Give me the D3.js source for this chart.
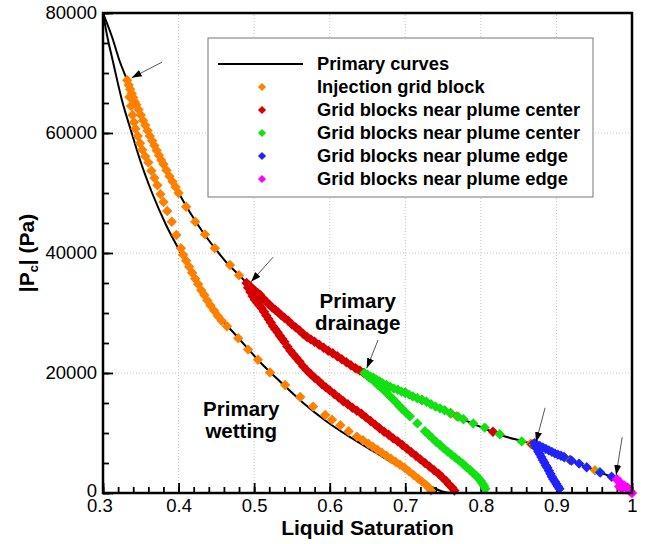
<!DOCTYPE html>
<html>
<head>
<meta charset="utf-8">
<script src="https://cdn.jsdelivr.net/npm/d3@7"></script>
<style>
  body { margin: 0; background: #fff; }
  svg { display: block; font-family: "Liberation Sans", Arial, Helvetica, sans-serif; }
  .tick text { font-size: 18.5px; fill: #000; }
</style>
</head>
<body>
<div id="chart"></div>
<script>
// tick labels
var xTicks = [0.3, 0.4, 0.5, 0.6, 0.7, 0.8, 0.9, 1.0];
var yTicks = [0, 20000, 40000, 60000, 80000];

// primary curves [Sl, |Pc|]
var drainageCurve = [
  [0.300, 80000], [0.312, 76000], [0.322, 72000], [0.332, 68800], [0.345, 64500],
  [0.362, 59500], [0.380, 54800], [0.398, 50500], [0.415, 46800], [0.432, 43500],
  [0.448, 40800], [0.465, 38200], [0.481, 36200], [0.490, 35000], [0.508, 33000],
  [0.525, 30800], [0.539, 29300], [0.555, 27600], [0.570, 26000], [0.587, 24600],
  [0.613, 22600], [0.631, 21100], [0.645, 20000], [0.672, 18200], [0.702, 16600],
  [0.728, 15200], [0.750, 13900], [0.776, 12300], [0.800, 11000], [0.825, 9700],
  [0.853, 8700], [0.871, 8100], [0.890, 7100], [0.905, 6300], [0.922, 5300],
  [0.940, 4300], [0.960, 3300], [0.975, 2600], [0.982, 2100], [0.990, 1300], [1.000, 0]
];
var wettingCurve = [
  [0.300, 80000], [0.305, 76500], [0.313, 72000], [0.325, 65500], [0.338, 60000],
  [0.349, 55500], [0.365, 50000], [0.383, 44800], [0.402, 40200], [0.428, 34200],
  [0.450, 30000], [0.478, 26000], [0.508, 21800], [0.535, 18500], [0.565, 15000],
  [0.595, 12000], [0.627, 9300], [0.660, 6800], [0.690, 4500], [0.715, 2600],
  [0.735, 1000], [0.748, 300], [0.760, 0]
];

// Injection grid block
var orangePts = [
  [0.332, 68800], [0.334, 68000], [0.336, 67300], [0.338, 66600], [0.340, 65900], [0.342, 65200],
  [0.344, 64700], [0.347, 63900], [0.350, 63000], [0.353, 62100], [0.356, 61300], [0.359, 60400],
  [0.362, 59500], [0.365, 58700], [0.368, 57900], [0.371, 57100], [0.374, 56300], [0.377, 55500],
  [0.380, 54800], [0.384, 53800], [0.388, 52800], [0.392, 51900], [0.396, 51000], [0.400, 50000],
  [0.410, 47700], [0.422, 45200], [0.435, 43100], [0.448, 40800], [0.468, 38000], [0.480, 36300],
  [0.637, 20600], [0.768, 12800], [0.866, 8200], [0.951, 3800], [0.997, 300],
  [0.335, 66000], [0.337, 64500], [0.339, 63000], [0.341, 61800], [0.343, 60700], [0.346, 59500],
  [0.349, 58300], [0.352, 57200], [0.356, 56100], [0.360, 55100], [0.364, 53700], [0.368, 52500],
  [0.372, 51300], [0.376, 49800], [0.380, 48500], [0.385, 47000], [0.391, 45200], [0.397, 43000],
  [0.403, 40800], [0.406, 39700], [0.410, 38700], [0.414, 37700], [0.418, 36700], [0.422, 35700],
  [0.426, 34800], [0.430, 33800], [0.434, 33000], [0.438, 32100], [0.442, 31300], [0.447, 30400],
  [0.452, 29500], [0.457, 28700], [0.464, 27800], [0.479, 25800], [0.492, 23900], [0.505, 22200],
  [0.521, 20100], [0.541, 18000], [0.561, 16000], [0.578, 14400], [0.594, 13000], [0.603, 12200],
  [0.614, 11300], [0.625, 10300], [0.636, 9400], [0.644, 8800], [0.651, 8200], [0.657, 7700],
  [0.663, 7200], [0.669, 6700], [0.675, 6200], [0.681, 5700], [0.687, 5200], [0.693, 4700],
  [0.699, 4200], [0.705, 3600], [0.711, 3000], [0.717, 2400], [0.722, 1900], [0.727, 1400],
  [0.731, 900], [0.734, 400]
];

// Grid blocks near plume center (red)
var redPts = [
  [0.490, 35000], [0.493, 34600], [0.496, 34300], [0.499, 33900], [0.502, 33600], [0.505, 33300],
  [0.508, 33000], [0.512, 32400], [0.516, 31900], [0.520, 31400], [0.524, 30900], [0.528, 30500],
  [0.532, 30100], [0.536, 29600], [0.540, 29200], [0.545, 28700], [0.550, 28100], [0.555, 27600],
  [0.560, 27100], [0.565, 26500], [0.570, 26000], [0.575, 25600], [0.580, 25200], [0.586, 24700],
  [0.592, 24200], [0.598, 23700], [0.604, 23300], [0.610, 22800], [0.616, 22300], [0.622, 21800],
  [0.628, 21300], [0.634, 20800], [0.640, 20400], [0.645, 20000],
  [0.700, 16700], [0.722, 15500], [0.760, 13300], [0.816, 10200], [0.868, 8100], [0.918, 5500], [0.994, 900],
  [0.492, 34200], [0.495, 33500], [0.498, 32800], [0.501, 32200], [0.504, 31700], [0.507, 31300],
  [0.510, 30800], [0.513, 30200], [0.516, 29600], [0.519, 29000], [0.522, 28400], [0.525, 27800],
  [0.528, 27300], [0.531, 26800], [0.534, 26200], [0.537, 25700], [0.540, 25200], [0.544, 24400],
  [0.548, 23700], [0.552, 23100], [0.556, 22500], [0.560, 21900], [0.565, 21100], [0.570, 20400],
  [0.575, 19800], [0.580, 19200], [0.585, 18700], [0.590, 18100], [0.595, 17600], [0.600, 17100],
  [0.606, 16500], [0.612, 15900], [0.618, 15300], [0.624, 14800], [0.630, 14200], [0.636, 13700],
  [0.642, 13200], [0.648, 12600], [0.654, 12000], [0.660, 11400], [0.666, 10800], [0.672, 10200],
  [0.678, 9700], [0.684, 9100], [0.690, 8600], [0.696, 8000], [0.702, 7400], [0.708, 6800],
  [0.714, 6200], [0.720, 5600], [0.726, 5000], [0.732, 4400], [0.738, 3800], [0.744, 3200],
  [0.749, 2600], [0.754, 2000], [0.758, 1400], [0.762, 900], [0.765, 400]
];

// Grid blocks near plume center (green)
var greenPts = [
  [0.646, 20000], [0.650, 19700], [0.654, 19400], [0.658, 19200], [0.662, 18900], [0.666, 18600],
  [0.670, 18300], [0.675, 18000], [0.680, 17700], [0.685, 17400], [0.690, 17200], [0.695, 16900],
  [0.700, 16700], [0.705, 16400], [0.710, 16100], [0.716, 15800], [0.722, 15500], [0.728, 15200],
  [0.734, 14800], [0.740, 14400], [0.746, 14100], [0.752, 13800], [0.760, 13300], [0.770, 12700],
  [0.777, 12300], [0.790, 11600], [0.805, 10900], [0.825, 9800], [0.854, 8600], [0.870, 8100],
  [0.911, 5900], [0.957, 3500],
  [0.649, 19600], [0.652, 19300], [0.656, 18900], [0.660, 18500], [0.664, 18000], [0.668, 17600],
  [0.672, 17100], [0.676, 16600], [0.680, 16100], [0.684, 15600], [0.688, 15100], [0.692, 14500],
  [0.696, 14000], [0.700, 13500], [0.706, 12800], [0.716, 11600], [0.726, 10300], [0.731, 9700],
  [0.736, 9100], [0.741, 8500], [0.746, 8000], [0.751, 7400], [0.756, 6900], [0.761, 6400],
  [0.766, 5900], [0.771, 5400], [0.776, 4900], [0.781, 4300], [0.786, 3800], [0.790, 3300],
  [0.794, 2900], [0.797, 2400], [0.800, 2000], [0.802, 1600], [0.804, 1200], [0.806, 700]
];

// Grid blocks near plume edge (blue)
var bluePts = [
  [0.871, 8300], [0.874, 8050], [0.878, 7850], [0.882, 7600], [0.886, 7350], [0.890, 7100],
  [0.894, 6850], [0.898, 6600], [0.902, 6400], [0.906, 6200], [0.910, 6000], [0.920, 5400],
  [0.930, 4900], [0.940, 4300], [0.958, 3400], [0.973, 2700],
  [0.872, 7900], [0.874, 7400], [0.876, 6900], [0.878, 6500], [0.880, 6000], [0.882, 5500],
  [0.884, 5100], [0.886, 4600], [0.888, 4200], [0.890, 3700], [0.892, 3200], [0.894, 2700],
  [0.896, 2300], [0.898, 1900], [0.900, 1500], [0.902, 1100], [0.904, 700]
];

// Grid blocks near plume edge (magenta)
var magentaPts = [
  [0.980, 2300], [0.982, 2000], [0.984, 1800], [0.985, 1500], [0.987, 1300], [0.988, 1000],
  [0.983, 1100], [0.986, 800], [0.990, 1200], [0.992, 900], [0.994, 700], [0.996, 500],
  [0.998, 300], [1.000, 0]
];

var seriesNames = ["Injection grid block", "Grid blocks near plume center", "Grid blocks near plume center",
  "Grid blocks near plume edge", "Grid blocks near plume edge"];
var seriesColors = ["#ff8000", "#d60000", "#11e011", "#2222ff", "#ff00ff"];
var seriesPts = [orangePts, redPts, greenPts, bluePts, magentaPts];

// arrows [tailSl, tailPc, tipSl, tipPc]
var arrows = [
  [0.378, 71800, 0.338, 69200],
  [0.525, 39300, 0.496, 35200],
  [0.664, 25500, 0.649, 20800],
  [0.885, 14200, 0.873, 8500],
  [0.987, 9300, 0.979, 3000]
];
var notes = [
  {lines: ["Primary", "drainage"], at: [0.637, 30800]},
  {lines: ["Primary", "wetting"], at: [0.483, 12800]}
];

var width = 649, height = 544;
var x = d3.scaleLinear().domain([0.3, 1]).range([103, 632]);
var y = d3.scaleLinear().domain([0, 80000]).range([493, 13]);

var svg = d3.select('#chart').append('svg')
  .attr('width', width).attr('height', height);

var defs = svg.append('defs');
defs.append('marker').attr('id', 'head')
  .attr('viewBox', '0 0 10 10').attr('refX', 10).attr('refY', 5)
  .attr('markerWidth', 10).attr('markerHeight', 10)
  .attr('markerUnits', 'userSpaceOnUse').attr('orient', 'auto')
  .append('path').attr('d', 'M0,1.5 L10,5 L0,8.5 Z').attr('fill', '#000');

// dotted grid
var grid = svg.append('g');
grid.selectAll('.gx').data(xTicks.slice(1, -1)).enter().append('line')
  .attr('x1', d => x(d)).attr('x2', d => x(d)).attr('y1', y(0)).attr('y2', y(80000))
  .attr('stroke', '#c4c4c4').attr('stroke-dasharray', '1,2');
grid.selectAll('.gy').data(yTicks.slice(1, -1)).enter().append('line')
  .attr('y1', d => y(d)).attr('y2', d => y(d)).attr('x1', x(0.3)).attr('x2', x(1))
  .attr('stroke', '#c4c4c4').attr('stroke-dasharray', '1,2');

// axes with inward ticks
var xAxis = svg.append('g').attr('transform', 'translate(0,' + y(0) + ')')
  .call(d3.axisBottom(x).tickValues(xTicks).tickSize(-10).tickPadding(6)
    .tickFormat(d => d === 1 ? '1' : d3.format('.1f')(d)));
var xMinor = svg.append('g').attr('transform', 'translate(0,' + y(0) + ')')
  .call(d3.axisBottom(x).tickValues(d3.range(30, 101, 2).map(v => v / 100)).tickSize(-6).tickFormat(''));
var yAxis = svg.append('g').attr('transform', 'translate(' + x(0.3) + ',0)')
  .call(d3.axisLeft(y).tickValues(yTicks).tickSize(-10).tickPadding(6).tickFormat(d3.format('d')));
var yMinor = svg.append('g').attr('transform', 'translate(' + x(0.3) + ',0)')
  .call(d3.axisLeft(y).tickValues(d3.range(0, 80001, 5000)).tickSize(-6).tickFormat(''));
svg.selectAll('.domain').remove();
svg.selectAll('.tick line').attr('stroke', '#000').attr('stroke-width', 1.8);
// keep the "0" and "0.3" corner labels from piling up
yAxis.selectAll('.tick text').filter(d => d === 0).attr('dy', '0.2em');
xAxis.selectAll('.tick text').filter(d => d === 0.3).attr('dx', '-0.2em');

// primary curves
var line = d3.line().x(d => x(d[0])).y(d => y(d[1])).curve(d3.curveMonotoneX);
[drainageCurve, wettingCurve].forEach(function(c) {
  svg.append('path').datum(c).attr('d', line)
    .attr('fill', 'none').attr('stroke', '#000').attr('stroke-width', 2);
});

// scatter points as diamonds
var diamond = d3.symbol().type(d3.symbolSquare).size(54);
seriesPts.forEach(function(pts, i) {
  svg.append('g').selectAll('path').data(pts).enter().append('path')
    .attr('d', diamond)
    .attr('transform', d => 'translate(' + x(d[0]) + ',' + y(d[1]) + ') rotate(45)')
    .attr('fill', seriesColors[i]);
});

// arrows
svg.append('g').selectAll('line').data(arrows).enter().append('line')
  .attr('x1', d => x(d[0])).attr('y1', d => y(d[1]))
  .attr('x2', d => x(d[2])).attr('y2', d => y(d[3]))
  .attr('stroke', '#555').attr('stroke-width', 1)
  .attr('marker-end', 'url(#head)');

// curve labels
notes.forEach(function(n) {
  var t = svg.append('text').attr('text-anchor', 'middle')
    .attr('font-size', 20.5).attr('font-weight', 'bold');
  n.lines.forEach(function(s, k) {
    t.append('tspan').attr('x', x(n.at[0])).attr('y', y(n.at[1]) + k * 22).text(s);
  });
});

// frame
svg.append('rect').attr('x', x(0.3)).attr('y', y(80000))
  .attr('width', x(1) - x(0.3)).attr('height', y(0) - y(80000))
  .attr('fill', 'none').attr('stroke', '#000').attr('stroke-width', 2.5);

// legend
var lg = svg.append('g').attr('transform', 'translate(208,38)');
lg.append('rect').attr('width', 385).attr('height', 159)
  .attr('fill', '#fff').attr('stroke', '#777').attr('stroke-width', 1);
lg.append('line').attr('x1', 10).attr('x2', 95).attr('y1', 26).attr('y2', 26)
  .attr('stroke', '#000').attr('stroke-width', 2);
lg.append('text').attr('x', 109).attr('y', 32).attr('font-size', 18.3).attr('font-weight', 'bold')
  .text('Primary curves');
seriesNames.forEach(function(name, i) {
  var yy = 26 + (i + 1) * 23;
  lg.append('path').attr('d', d3.symbol().type(d3.symbolSquare).size(34))
    .attr('transform', 'translate(54,' + yy + ') rotate(45)').attr('fill', seriesColors[i]);
  lg.append('text').attr('x', 109).attr('y', yy + 6).attr('font-size', 18.3).attr('font-weight', 'bold')
    .text(name);
});

// axis titles
svg.append('text').attr('x', (x(0.3) + x(1)) / 2).attr('y', 535)
  .attr('text-anchor', 'middle').attr('font-size', 21).attr('font-weight', 'bold')
  .text('Liquid Saturation');
var yt = svg.append('text').attr('transform', 'translate(34,' + ((y(0) + y(80000)) / 2) + ') rotate(-90)')
  .attr('text-anchor', 'middle').attr('font-size', 21).attr('font-weight', 'bold');
yt.append('tspan').text('|P');
yt.append('tspan').attr('font-size', 13).attr('dy', 4).text('c');
yt.append('tspan').attr('dy', -4).text('| (Pa)');
</script>
</body>
</html>
